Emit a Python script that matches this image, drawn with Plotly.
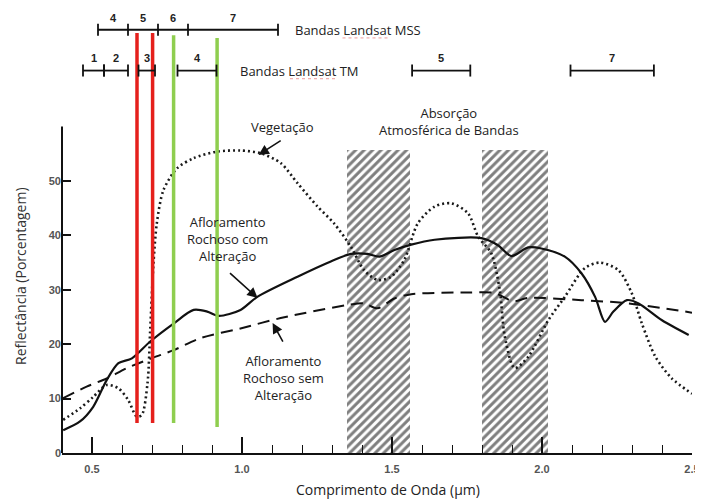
import plotly.graph_objects as go

# ---------------- data ----------------
wl_alt = [0.404, 0.46, 0.504, 0.549, 0.588, 0.633, 0.694, 0.772, 0.839, 0.884, 0.922, 0.995,
          1.051, 1.185, 1.296, 1.363, 1.419, 1.458, 1.508, 1.564, 1.642, 1.798, 1.853, 1.898,
          1.954, 1.998, 2.076, 2.132, 2.177, 2.21, 2.238, 2.283, 2.322, 2.4, 2.489]
refl_alt = [4.2, 5.8, 8.5, 13.4, 16.5, 17.4, 20.5, 23.8, 26.3, 26.0, 25.2, 26.3,
            28.7, 32.4, 35.2, 36.6, 36.6, 36.1, 37.3, 38.3, 39.2, 39.5, 38.2, 36.2,
            37.8, 37.6, 36.1, 33.0, 28.7, 24.1, 26.0, 28.1, 27.5, 24.4, 21.7]

wl_un = [0.404, 0.482, 0.549, 0.616, 0.688, 0.772, 0.861, 0.995, 1.129, 1.352, 1.407, 1.452,
         1.508, 1.564, 1.753, 1.842, 1.904, 1.954, 2.132, 2.288, 2.5]
refl_un = [10.1, 12.2, 13.7, 15.6, 17.2, 18.9, 21.1, 22.9, 24.8, 27.2, 27.5, 26.6,
           28.4, 29.2, 29.5, 29.4, 27.9, 28.5, 28.1, 27.5, 25.8]

wl_veg = [0.404, 0.46, 0.504, 0.549, 0.588, 0.621, 0.649, 0.666, 0.685, 0.694, 0.705, 0.716,
          0.738, 0.783, 0.839, 0.917, 0.995, 1.062, 1.129, 1.185, 1.252, 1.307, 1.363, 1.407,
          1.452, 1.497, 1.541, 1.586, 1.642, 1.697, 1.753, 1.787, 1.831, 1.859, 1.876, 1.909,
          1.954, 2.021, 2.076, 2.143, 2.193, 2.255, 2.299, 2.333, 2.378, 2.433, 2.5]
refl_veg = [6.1, 8.2, 10.3, 12.5, 11.9, 9.7, 6.7, 7.0, 12.8, 22.6, 34.9, 42.2,
            48.3, 52.3, 54.2, 55.4, 55.6, 55.1, 53.3, 49.6, 45.3, 42.2, 37.9, 33.6,
            31.8, 32.4, 35.5, 42.2, 45.3, 45.9, 44.1, 39.8, 36.7, 30.0, 21.4, 15.6,
            17.7, 24.4, 28.7, 34.0, 35.0, 33.6, 29.4, 23.8, 17.7, 13.7, 10.9]

# atmospheric absorption bands (start, end) and their hatched height
absorb_start = [1.35, 1.80]
absorb_end = [1.56, 2.02]
absorb_top = 55.7

# Landsat MSS band edges and labels
mss_edges = [0.52, 0.62, 0.72, 0.82, 1.12]
mss_labels = ["4", "5", "6", "7"]

# Landsat TM bands
tm_start = [0.47, 0.54, 0.655, 0.785, 1.567, 2.095]
tm_end = [0.54, 0.62, 0.71, 0.915, 1.761, 2.373]
tm_labels = ["1", "2", "3", "4", "5", "7"]

# highlighted wavelengths (red / green vertical lines)
red_x = [0.650, 0.702]
green_x = [0.772, 0.917]

x_ticks = [0.5, 1.0, 1.5, 2.0, 2.5]
x_ticktext = ["0.5", "1.0", "1.5", "2.0", "2.5"]
y_ticks = [0, 10, 20, 30, 40, 50]
y_ticktext = ["0", "10", "20", "30", "40", "50"]

# ---------------- figure ----------------
FONT = "Open Sans"
fig = go.Figure()

# hatched absorption regions
fig.add_trace(go.Bar(
    x=[(a + b) / 2 for a, b in zip(absorb_start, absorb_end)],
    y=[absorb_top] * len(absorb_start),
    width=[b - a for a, b in zip(absorb_start, absorb_end)],
    marker=dict(color="white", line=dict(width=0),
                pattern=dict(shape="/", fgcolor="#000", bgcolor="white",
                             size=6, solidity=0.5)),
    hoverinfo="skip", showlegend=False))

fig.add_trace(go.Scatter(x=wl_veg, y=refl_veg, mode="lines",
                         line=dict(color="#1a1a1a", width=2.6, dash="2px,3px",
                                   shape="spline", smoothing=0.8),
                         showlegend=False))
fig.add_trace(go.Scatter(x=wl_un, y=refl_un, mode="lines",
                         line=dict(color="#111", width=2, dash="12px,7px",
                                   shape="spline", smoothing=0.8),
                         showlegend=False))
fig.add_trace(go.Scatter(x=wl_alt, y=refl_alt, mode="lines",
                         line=dict(color="#111", width=2.2, shape="spline", smoothing=0.8),
                         showlegend=False))

shapes = []
# y axis line (only up to 60)
shapes.append(dict(type="line", xref="paper", yref="y", x0=0, x1=0, y0=0, y1=60,
                   line=dict(color="#111", width=2)))

# red / green lines
for xv in red_x:
    shapes.append(dict(type="line", xref="x", yref="y", x0=xv, x1=xv, y0=5.5, y1=77.2,
                       line=dict(color="#e5201c", width=3.5)))
for xv, top, bot in zip(green_x, [76.8, 76.3], [5.5, 4.8]):
    shapes.append(dict(type="line", xref="x", yref="y", x0=xv, x1=xv, y0=bot, y1=top,
                       line=dict(color="#8fce4f", width=3.5)))

annotations = []
BAR_W = 1.8
# MSS bands
mss_y = 77.8
shapes.append(dict(type="line", xref="x", yref="y", x0=mss_edges[0], x1=mss_edges[-1],
                   y0=mss_y, y1=mss_y, line=dict(color="#111", width=BAR_W)))
for e in mss_edges:
    shapes.append(dict(type="line", xref="x", yref="y", x0=e, x1=e, y0=mss_y - 1.1,
                       y1=mss_y + 1.1, line=dict(color="#111", width=BAR_W)))
for i, lab in enumerate(mss_labels):
    annotations.append(dict(x=(mss_edges[i] + mss_edges[i + 1]) / 2, y=80.0, text="<b>" + lab + "</b>",
                            showarrow=False, font=dict(family="Arial", size=11, color="#222")))
annotations.append(dict(x=1.386, y=mss_y, text="Bandas Landsat MSS", showarrow=False,
                        font=dict(family=FONT, size=13, color="#222")))
# spell-check style underline under "Landsat"
shapes.append(dict(type="line", xref="x", yref="y", x0=1.335, x1=1.487, y0=76.3, y1=76.3,
                   line=dict(color="#e99", width=1, dash="dot")))

# TM bands
tm_y = 70.3
for a, b, lab in zip(tm_start, tm_end, tm_labels):
    shapes.append(dict(type="line", xref="x", yref="y", x0=a, x1=b, y0=tm_y, y1=tm_y,
                       line=dict(color="#111", width=BAR_W)))
    for e in (a, b):
        shapes.append(dict(type="line", xref="x", yref="y", x0=e, x1=e, y0=tm_y - 1.1,
                           y1=tm_y + 1.1, line=dict(color="#111", width=BAR_W)))
    annotations.append(dict(x=(a + b) / 2, y=72.6, text="<b>" + lab + "</b>", showarrow=False,
                            font=dict(family="Arial", size=11, color="#222")))
annotations.append(dict(x=1.192, y=tm_y, text="Bandas Landsat TM", showarrow=False,
                        font=dict(family=FONT, size=13, color="#222")))
shapes.append(dict(type="line", xref="x", yref="y", x0=1.160, x1=1.318, y0=68.8, y1=68.8,
                   line=dict(color="#e99", width=1, dash="dot")))

# text labels
lab_font = dict(family=FONT, size=13, color="#222")
annotations.append(dict(x=1.69, y=61.0, text="Absorção<br>Atmosférica de Bandas",
                        showarrow=False, font=lab_font))
annotations.append(dict(x=1.135, y=59.9, text="Vegetação", showarrow=False, font=lab_font))
annotations.append(dict(x=0.951, y=39.3, text="Afloramento<br>Rochoso com<br>Alteração",
                        showarrow=False, font=lab_font))
annotations.append(dict(x=1.139, y=13.8, text="Afloramento<br>Rochoso sem<br>Alteração",
                        showarrow=False, font=lab_font))

# arrows
for hx, hy, tx, ty in [(1.055, 54.8, 1.134, 57.6), (1.052, 28.5, 0.955, 33.3),
                       (1.102, 23.9, 1.139, 20.2)]:
    annotations.append(dict(x=hx, y=hy, ax=tx, ay=ty, axref="x", ayref="y", text="",
                            showarrow=True, arrowhead=2, arrowsize=1.3, arrowwidth=1.6,
                            arrowcolor="#111"))

# axis titles
annotations.append(dict(xref="paper", yref="y", x=-0.067, y=32.5, xanchor="center",
                        yanchor="middle", text="Reflectância (Porcentagem)",
                        textangle=-90, showarrow=False,
                        font=dict(family=FONT, size=14, color="#333")))
annotations.append(dict(xref="x", yref="paper", x=1.487, y=-0.0837, xanchor="center",
                        yanchor="middle", text="Comprimento de Onda (µm)", showarrow=False,
                        font=dict(family=FONT, size=14, color="#222")))

fig.update_layout(
    width=695, height=492,
    margin=dict(l=54, r=11, t=3, b=47),
    paper_bgcolor="white", plot_bgcolor="white",
    shapes=shapes, annotations=annotations,
    bargap=0,
    xaxis=dict(range=[0.4, 2.5], tickvals=x_ticks,
               ticktext=["<b>" + t + "</b>" for t in x_ticktext],
               ticks="inside", ticklen=16, tickwidth=1.5, tickcolor="#111",
               minor=dict(tickmode="linear", tick0=0.5, dtick=0.1, ticks="inside",
                          ticklen=8, tickwidth=1.3, tickcolor="#111"),
               showline=True, linecolor="#111", linewidth=2,
               showgrid=False, zeroline=False, ticklabelstandoff=5,
               tickfont=dict(family="Arial", size=11, color="#555")),
    yaxis=dict(range=[0, 81.25], tickvals=y_ticks,
               ticktext=["<b>" + t + "</b>" for t in y_ticktext],
               ticks="inside", ticklen=9,
               tickwidth=1.5, tickcolor="#111", showline=False, showgrid=False,
               zeroline=False, tickfont=dict(family="Arial", size=11, color="#555")),
)

fig.write_html("out.html")
